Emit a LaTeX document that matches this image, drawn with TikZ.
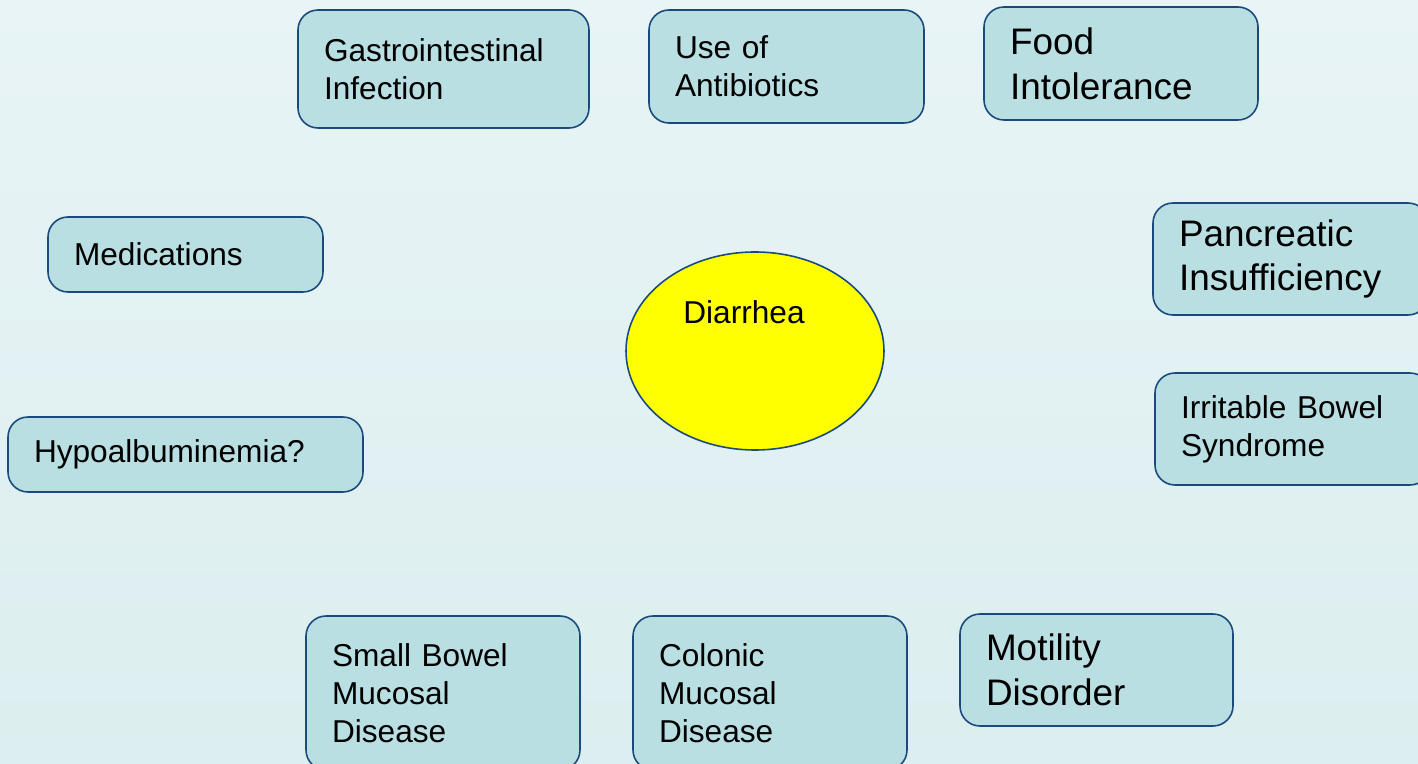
\documentclass[tikz,border=0pt]{standalone}
\usepackage{fontspec}
\setmainfont{Liberation Sans}
\usetikzlibrary{shapes.geometric}
\definecolor{bgtop}{HTML}{E8F4F6}
\definecolor{bgbot}{HTML}{DCEEEF}
\definecolor{boxfill}{HTML}{B9DFE3}
\definecolor{boxline}{HTML}{1A4A7C}
\definecolor{centrefill}{HTML}{FFFF00}

\begin{document}
\begin{tikzpicture}[
  cause/.style={draw=boxline,fill=boxfill,line width=0.9pt,rounded corners=0.4cm,
    anchor=north west,inner xsep=0.52cm,inner ysep=0pt,outer sep=0pt,align=left,
    font=\fontsize{18}{21.6}\selectfont},
  bigcause/.style={cause,font=\fontsize{21}{25.5}\selectfont},
  boxsize/.style n args={2}{minimum width=#1cm,minimum height=#2cm,text width=#1cm-1.04cm}
]
% background
\useasboundingbox (0,0) rectangle (28.36,-15.28);
\clip (0,0) rectangle (28.36,-15.28);
\shade[top color=bgtop,bottom color=bgbot] (0,0) rectangle (28.36,-15.28);
% centre
\node[ellipse,draw=boxline,fill=centrefill,line width=0.9pt,minimum width=5.16cm,minimum height=3.96cm] (diarrhea) at (15.10,-7.02) {};
\node[font=\fontsize{18}{21.6}\selectfont] (diarrhealabel) at (14.88,-6.24) {Diarrhea};
% top row
\node[cause,boxsize={5.82}{2.36}] (infection) at (5.96,-0.20) {Gastrointestinal\\Infection};
\node[cause,boxsize={5.50}{2.26}] (antibiotics) at (12.98,-0.20) {Use of\\Antibiotics};
\node[bigcause,boxsize={5.48}{2.26}] (food) at (19.68,-0.14) {Food\\Intolerance};
% left side
\node[cause,boxsize={5.50}{1.50}] (medications) at (0.96,-4.34) {Medications};
\node[cause,boxsize={7.10}{1.50}] (albumin) at (0.16,-8.34) {Hypoalbuminemia?};
% right side
\node[bigcause,boxsize={5.50}{2.24}] (pancreas) at (23.06,-4.06) {Pancreatic\\Insufficiency};
\node[cause,boxsize={5.50}{2.24}] (ibs) at (23.10,-7.46) {Irritable Bowel\\Syndrome};
% bottom row
\node[cause,boxsize={5.48}{3.08}] (smallbowel) at (6.12,-12.32) {Small Bowel\\Mucosal\\Disease};
\node[cause,boxsize={5.48}{3.08}] (colonic) at (12.66,-12.32) {Colonic\\Mucosal\\Disease};
\node[bigcause,boxsize={5.46}{2.24}] (motility) at (19.20,-12.28) {Motility\\Disorder};
\end{tikzpicture}
\end{document}
